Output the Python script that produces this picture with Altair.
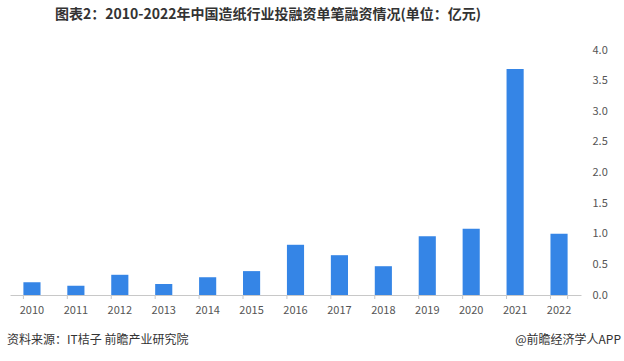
import altair as alt
import pandas as pd

years = ["2010", "2011", "2012", "2013", "2014", "2015", "2016",
         "2017", "2018", "2019", "2020", "2021", "2022"]
values = [0.21, 0.15, 0.33, 0.18, 0.29, 0.39, 0.82,
          0.65, 0.47, 0.96, 1.08, 3.69, 1.00]
y_ticks = [0.0, 0.5, 1.0, 1.5, 2.0, 2.5, 3.0, 3.5, 4.0]

title_text = "图表2：2010-2022年中国造纸行业投融资单笔融资情况(单位：亿元)"
source_text = "资料来源：IT桔子 前瞻产业研究院"
brand_text = "@前瞻经济学人APP"

df = pd.DataFrame({"year": years, "value": values})
df_last = pd.DataFrame({"year": [years[-1]]})

FONT = "Noto Sans CJK SC"
W, H = 571, 245
xscale = alt.Scale(paddingInner=0.61, paddingOuter=0.305)

bars = alt.Chart(df).mark_bar(color="#3585E6").encode(
    x=alt.X("year:N", sort=years, title=None, scale=xscale,
            axis=alt.Axis(labelAngle=0, labelColor="#555", labelFontSize=11,
                          labelFont=FONT, domain=True, domainColor="#c8c8c8",
                          ticks=False, labelPadding=9, grid=False)),
    y=alt.Y("value:Q", title=None,
            scale=alt.Scale(domain=[0, 4]),
            axis=alt.Axis(orient="right", values=y_ticks, format=".1f", grid=False,
                          domain=False, ticks=False, labelPadding=11,
                          labelColor="#555", labelFontSize=11, labelFont=FONT)),
)

ticks_start = alt.Chart(df).mark_rule(color="#c8c8c8").encode(
    x=alt.X("year:N", sort=years, bandPosition=0),
    y=alt.value(H), y2=alt.value(H + 4),
)
ticks_end = alt.Chart(df_last).mark_rule(color="#c8c8c8").encode(
    x=alt.X("year:N", sort=years, bandPosition=1),
    y=alt.value(H), y2=alt.value(H + 4),
)

src = alt.Chart(pd.DataFrame({"t": [source_text]})).mark_text(
    align="left", baseline="middle", fontSize=12, font=FONT, color="#333"
).encode(x=alt.value(-3), y=alt.value(H + 45), text="t:N")

brand = alt.Chart(pd.DataFrame({"t": [brand_text]})).mark_text(
    align="right", baseline="middle", fontSize=12, font=FONT, color="#333"
).encode(x=alt.value(W + 40), y=alt.value(H + 45), text="t:N")

chart = alt.layer(bars, ticks_start, ticks_end, src, brand).properties(
    width=W, height=H,
    title=alt.TitleParams(title_text, anchor="start", dx=48, offset=22,
                          fontSize=14, font=FONT, fontWeight="bold", color="#333"),
    autosize=alt.AutoSizeParams(type="none"),
    padding={"left": 10, "top": 50, "right": 43, "bottom": 66},
    view=alt.ViewBackground(stroke="#ffffff", strokeWidth=0, fill="#ffffff"),
).configure(
    background="white"
).configure_view(
    stroke="#ffffff", strokeWidth=0, fill="#ffffff"
).configure_axisY(
    domain=False, grid=False, ticks=False
).configure_axisLeft(
    domain=False, grid=False, ticks=False, labels=False
)

chart.save("out.html", embed_options={"renderer": "svg", "actions": False})
